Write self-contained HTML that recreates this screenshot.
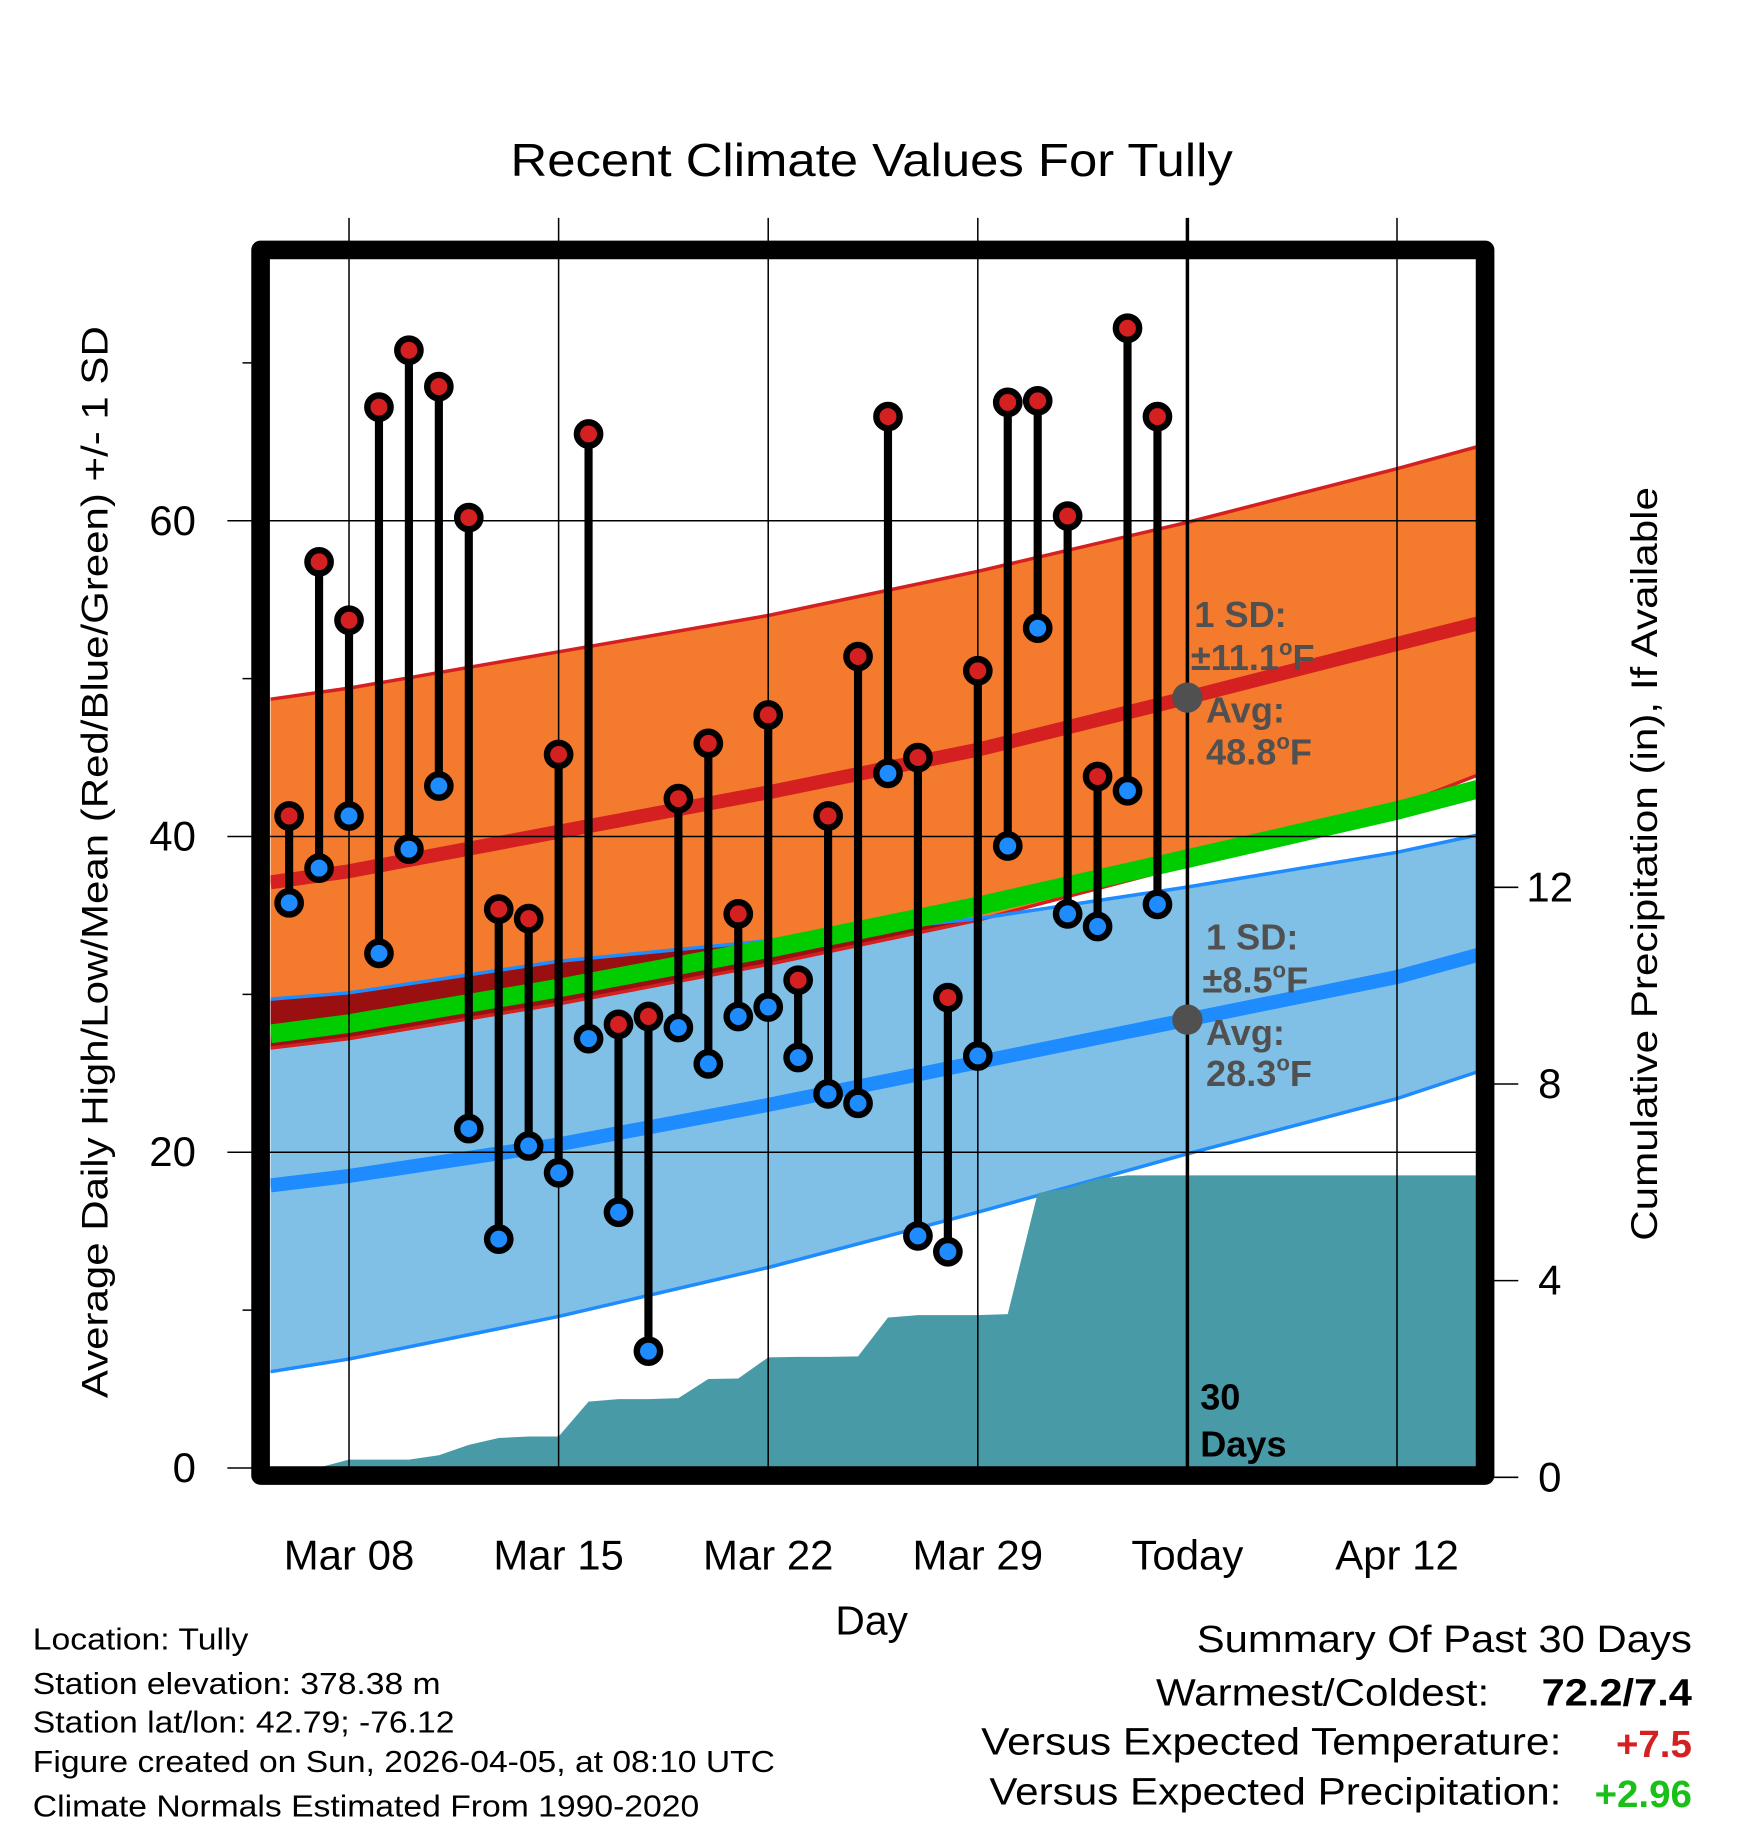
<!DOCTYPE html>
<html><head><meta charset="utf-8"><style>
html,body{margin:0;padding:0;background:#fff;}
svg{display:block;font-family:"Liberation Sans",Arial,sans-serif;}
</style></head><body>
<svg id="chart" width="1748" height="1828" viewBox="0 0 1500 1569" xmlns="http://www.w3.org/2000/svg">
<defs><clipPath id="plotclip"><rect x="232" y="222" width="1036" height="1038"/></clipPath></defs>
<rect x="0" y="0" width="1500" height="1569" fill="#fff"/>
<text x="438" y="151" font-size="40" textLength="620" lengthAdjust="spacingAndGlyphs">Recent Climate Values For Tully</text>
<g id="plot" clip-path="url(#plotclip)"></g>
<g id="grid"></g>
<g id="marks" clip-path="url(#plotclip)"></g>
<g id="annot">
<g fill="#505050" font-weight="bold" font-size="31">
<text x="1025" y="538">1 SD:</text>
<text x="1022" y="575">±11.1<tspan font-size="19" dy="-13">o</tspan><tspan dy="13">F</tspan></text>
<text x="1035" y="620">Avg:</text>
<text x="1035" y="656">48.8<tspan font-size="19" dy="-13">o</tspan><tspan dy="13">F</tspan></text>
</g>
<g fill="#505050" font-weight="bold" font-size="31">
<text x="1035" y="815">1 SD:</text>
<text x="1032" y="852">±8.5<tspan font-size="19" dy="-13">o</tspan><tspan dy="13">F</tspan></text>
<text x="1035" y="897">Avg:</text>
<text x="1035" y="932">28.3<tspan font-size="19" dy="-13">o</tspan><tspan dy="13">F</tspan></text>
</g>
<g fill="#000" font-weight="bold" font-size="31">
<text x="1030" y="1210">30</text><text x="1030" y="1250">Days</text>
</g>
</g>
<rect x="223.5" y="214.5" width="1051" height="1052" fill="none" stroke="#000" stroke-width="16" stroke-linejoin="round"/>
<text transform="translate(92,1200) rotate(-90)" font-size="32" textLength="920" lengthAdjust="spacingAndGlyphs">Average Daily High/Low/Mean (Red/Blue/Green) +/- 1 SD</text>
<text transform="translate(1422,1065) rotate(-90)" font-size="32" textLength="647" lengthAdjust="spacingAndGlyphs">Cumulative Precipitation (in), If Available</text>
<text x="748" y="1403" font-size="35" text-anchor="middle">Day</text>
<g font-size="26">
<text x="28" y="1416" textLength="185" lengthAdjust="spacingAndGlyphs">Location: Tully</text>
<text x="28" y="1454" textLength="350" lengthAdjust="spacingAndGlyphs">Station elevation: 378.38 m</text>
<text x="28" y="1487" textLength="362" lengthAdjust="spacingAndGlyphs">Station lat/lon: 42.79; -76.12</text>
<text x="28" y="1521" textLength="637" lengthAdjust="spacingAndGlyphs">Figure created on Sun, 2026-04-05, at 08:10 UTC</text>
<text x="28" y="1559" textLength="572" lengthAdjust="spacingAndGlyphs">Climate Normals Estimated From 1990-2020</text>
</g>
<g font-size="33">
<text x="1027" y="1418" textLength="425" lengthAdjust="spacingAndGlyphs">Summary Of Past 30 Days</text>
<text x="992" y="1464" textLength="286" lengthAdjust="spacingAndGlyphs">Warmest/Coldest:</text>
<text x="1323" y="1464" font-weight="bold" textLength="129" lengthAdjust="spacingAndGlyphs">72.2/7.4</text>
<text x="842" y="1506" textLength="498" lengthAdjust="spacingAndGlyphs">Versus Expected Temperature:</text>
<text x="1452" y="1508" text-anchor="end" font-weight="bold" fill="#d42020">+7.5</text>
<text x="849" y="1549" textLength="491" lengthAdjust="spacingAndGlyphs">Versus Expected Precipitation:</text>
<text x="1452" y="1551" text-anchor="end" font-weight="bold" fill="#18c018">+2.96</text>
</g>
</svg>
<script>
// observed data, day index 0 = Mar 06
const highs=[41.3,57.4,53.7,67.2,70.8,68.5,60.2,35.4,34.8,45.2,65.5,28.1,28.6,42.4,45.9,35.1,47.7,30.9,41.3,51.4,66.6,45.0,29.8,50.5,67.5,67.6,60.3,43.8,72.2,66.6];
const lows=[35.8,38.0,41.3,32.6,39.2,43.2,21.5,14.5,20.4,18.7,27.2,16.2,7.4,27.9,25.6,28.6,29.2,26.0,23.7,23.1,44.0,14.7,13.7,26.1,39.4,53.2,35.1,34.3,42.9,35.7];
const precip=[0,0.2,0.36,0.36,0.36,0.45,0.66,0.8,0.83,0.83,1.54,1.59,1.59,1.61,2.0,2.01,2.44,2.45,2.45,2.46,3.25,3.3,3.3,3.3,3.32,5.78,5.88,6.07,6.14,6.14,6.14];
// normals at selected days
const normDays=[-0.62,2,9,16,23,30,37,39.7];
const normHighMean=[37.1,37.8,40.3,42.8,45.5,48.8,52.2,53.5];
const normHighUpper=[48.7,49.4,51.7,54.0,56.8,59.9,63.3,64.7];
const normHighLower=[26.6,27.2,29.4,31.9,34.7,38.2,41.9,43.9];
const normLowMean=[17.9,18.5,20.5,23.0,25.7,28.4,31.1,32.5];
const normLowUpper=[29.7,30.1,32.1,33.4,34.8,36.8,39.0,40.1];
const normLowLower=[6.1,6.9,9.6,12.7,16.2,19.9,23.4,25.1];
// axes
const xTickDays=[2,9,16,23,30,37];
const xTickLabels=["Mar 08","Mar 15","Mar 22","Mar 29","Today","Apr 12"];
const yTicks=[0,20,40,60];
const yMinorTicks=[10,30,50,70];
const pTicks=[0,4,8,12];

const NS="http://www.w3.org/2000/svg";
const X=d=>248+d*25.7, YT=t=>1260-t*13.55, YP=p=>1268-p*42.2;
function mk(tag,attrs,parent){const e=document.createElementNS(NS,tag);for(const k in attrs)e.setAttribute(k,attrs[k]);parent.appendChild(e);return e;}
const plot=document.getElementById('plot'),grid=document.getElementById('grid'),marks=document.getElementById('marks');
function pts(arr){return normDays.map((d,i)=>[X(d),YT(arr[i])]);}
function band(up,lo){const a=pts(up),b=pts(lo).reverse();return a.concat(b).map(p=>p.join(',')).join(' ');}
function line(arr){return pts(arr).map(p=>p.join(',')).join(' ');}

let e;
e=mk('polygon',{points:band(normHighUpper,normHighLower),fill:'#f47a2e'},plot);

e=mk('polygon',{points:band(normLowUpper,normLowLower),fill:'#80c0e6'},plot);

const ov=[],ovb=[];
normDays.forEach((d,i)=>{const u=normLowUpper[i],l=normHighLower[i];ov.push([X(d),YT(u)]);ovb.push([X(d),YT(Math.min(u,l))]);});
e=mk('polygon',{points:ov.concat(ovb.reverse()).map(p=>p.join(',')).join(' '),fill:'#9a1010'},plot);

[[normHighUpper,'#d42020',3,'high-upper-line'],[normHighLower,'#d42020',3,'high-lower-line'],[normLowUpper,'#1e8cff',3,'low-upper-line'],[normLowLower,'#1e8cff',3,'low-lower-line']].forEach(c=>{
 const l=mk('polyline',{points:line(c[0]),fill:'none',stroke:c[1],'stroke-width':c[2]},plot);
 
 
});
const meanMean=normHighMean.map((v,i)=>(v+normLowMean[i])/2);
e=mk('polyline',{points:line(meanMean),fill:'none',stroke:'#00cc00','stroke-width':16},plot);

[[normHighMean,'#d42020',12,'high-mean-line'],[normLowMean,'#1e8cff',12,'low-mean-line']].forEach(c=>{
 const l=mk('polyline',{points:line(c[0]),fill:'none',stroke:c[1],'stroke-width':c[2]},plot);
 
 
});
let pp=[[232,1262]];
precip.forEach((v,i)=>pp.push([X(i),Math.min(YP(v),1262)]));
pp.push([1270,YP(precip[precip.length-1])]);pp.push([1270,1262]);
e=mk('polygon',{points:pp.map(p=>p.join(',')).join(' '),fill:'#489ba6'},plot);


yTicks.forEach(t=>{
 const g=mk('line',{x1:195,x2:1268,y1:YT(t),y2:YT(t),stroke:'#000','stroke-width':1.3},grid);
 
 const tx=mk('text',{x:168,y:YT(t)+12,'font-size':36,'text-anchor':'end'},grid);tx.textContent=t;
 
});
yMinorTicks.forEach(t=>{const g=mk('line',{x1:208,x2:224,y1:YT(t),y2:YT(t),stroke:'#000','stroke-width':1.3},grid);
 });
xTickDays.forEach((d,i)=>{
 const today=xTickLabels[i]==='Today';
 const g=mk('line',{x1:X(d),x2:X(d),y1:187,y2:1262,stroke:'#000','stroke-width':today?3:1.3},grid);
 
 const tx=mk('text',{x:X(d),y:1347,'font-size':36,'text-anchor':'middle'},grid);tx.textContent=xTickLabels[i];
 
});
pTicks.forEach(p=>{
 const g=mk('line',{x1:1276,x2:1303,y1:YP(p),y2:YP(p),stroke:'#000','stroke-width':1.3},grid);
 
 const tx=mk('text',{x:1330,y:YP(p)+12,'font-size':36,'text-anchor':'middle'},grid);tx.textContent=p;
 
});

highs.forEach((h,i)=>{
 const x=X(i);
 const s=mk('line',{x1:x,x2:x,y1:YT(h),y2:YT(lows[i]),stroke:'#000','stroke-width':7},marks);
 
 const lo=mk('circle',{cx:x,cy:YT(lows[i]),r:10,fill:'#1e8cff',stroke:'#000','stroke-width':5.5},marks);
 
 const hi=mk('circle',{cx:x,cy:YT(h),r:10,fill:'#d42020',stroke:'#000','stroke-width':5.5},marks);
 
});
const ti=normDays.indexOf(30);
e=mk('circle',{cx:X(30),cy:YT(normHighMean[ti]),r:13,fill:'#505050'},marks);

e=mk('circle',{cx:X(30),cy:YT(normLowMean[ti]),r:13,fill:'#505050'},marks);

</script>
</body></html>
